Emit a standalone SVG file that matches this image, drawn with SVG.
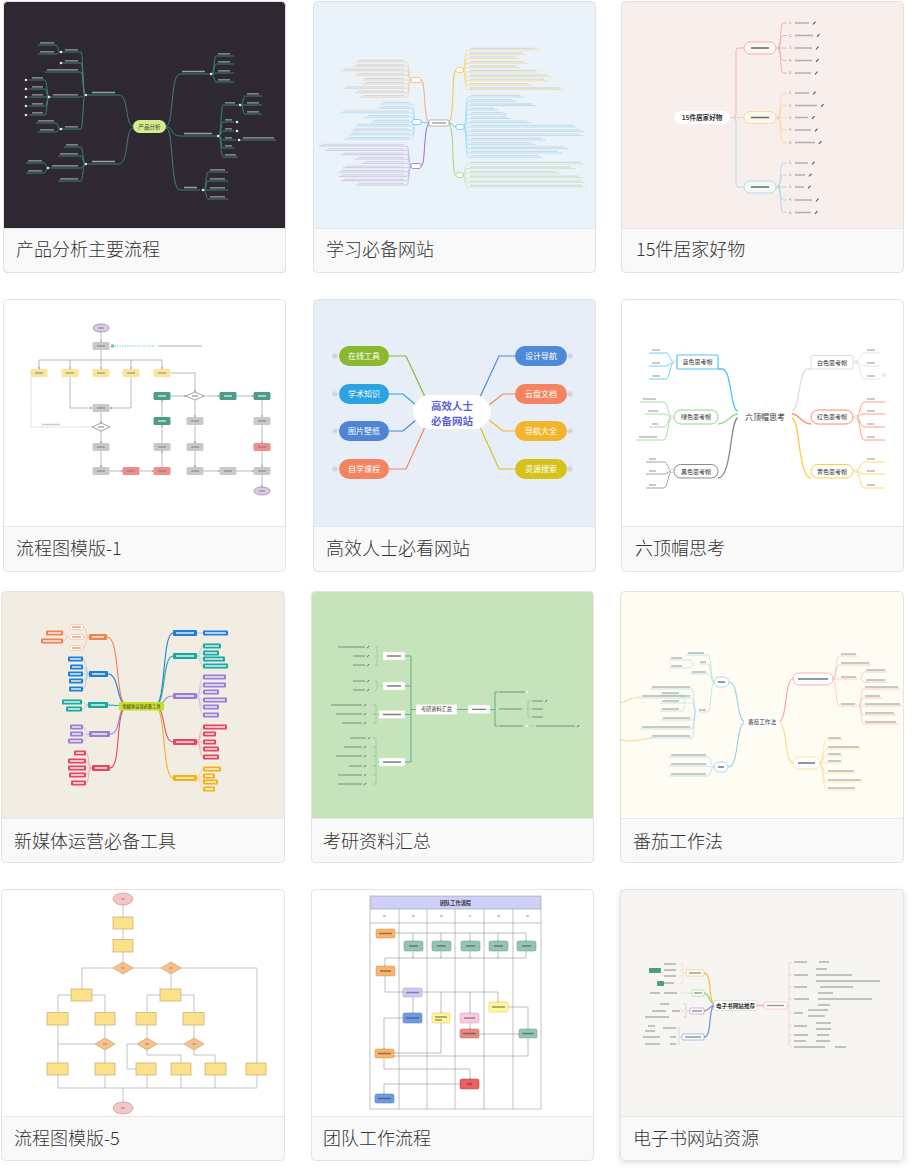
<svg xmlns="http://www.w3.org/2000/svg" width="912" height="1172" viewBox="0 0 912 1172">
<defs>
<style>
.frame{fill:none;stroke:#e3e3e3;stroke-width:1}
.foot{fill:#f9f9f9}
.sep{stroke:#e8e8e8;stroke-width:1}
.lbl{font-family:"Noto Sans CJK SC","Noto Sans",sans-serif;font-size:18px;font-weight:300;fill:#333}
.cj{font-family:"Noto Sans CJK SC","Noto Sans",sans-serif}
.ln{fill:none;stroke-width:.9}
.tb{fill:none;stroke-width:1.3}
.fl{fill:none;stroke:#8e8e8e;stroke-width:.6}
.bx{stroke:none}
</style>
<marker id="ah" viewBox="0 0 4 4" refX="3.5" refY="2" markerWidth="3" markerHeight="3" orient="auto"><path d="M0,0 L4,2 L0,4 Z" fill="#777"/></marker>
<filter id="sh" x="-10%" y="-10%" width="120%" height="120%"><feDropShadow dx="0" dy="2" stdDeviation="3" flood-color="#000" flood-opacity="0.15"/></filter>
</defs>
<rect width="912" height="1172" fill="#ffffff"/>

<!-- ============ CARD 1 ============ -->
<g id="card1">
<rect x="3.5" y="1.5" width="282" height="271" rx="4" fill="#2d2831"/>
<path class="foot" d="M3.5,228.5 H285.5 V268.5 A4,4 0 0 1 281.5,272.5 H7.5 A4,4 0 0 1 3.5,268.5 Z"/>
<line class="sep" x1="3.5" y1="228.5" x2="285.5" y2="228.5"/>
<g class="ln" stroke="#3b8a80">
<path d="M166,126 C174,126 170,74 180,74 H209"/>
<path d="M166,127 C174,127 170,136 180,136 H216"/>
<path d="M166,128 C174,128 170,190 180,190 H200"/>
<path d="M212,74 C214,74 214,56 216,56 H234"/>
<path d="M212,74 C214,74 214,64 216,64 H234"/>
<path d="M212,74 C214,74 214,73 216,73 H234"/>
<path d="M212,74 C214,74 214,82 216,82 H234"/>
<path d="M219,136 C221,136 221,105 223,105 H238"/>
<path d="M219,136 C221,136 221,122 223,122 H234"/>
<path d="M219,136 C221,136 221,131 223,131 H234"/>
<path d="M219,136 C221,136 221,140 223,140 H236"/>
<path d="M219,136 C221,136 221,148 223,148 H234"/>
<path d="M219,136 C221,136 221,157 223,157 H238"/>
<path d="M241,105 C243,105 243,96 245,96 H262"/>
<path d="M241,105 H262"/>
<path d="M241,105 C243,105 243,114 245,114 H262"/>
<path d="M239,140 H276"/>
<path d="M204,190 C206,190 206,172 208,172 H228"/>
<path d="M204,190 C206,190 206,181 208,181 H228"/>
<path d="M204,190 H228"/>
<path d="M204,190 C206,190 206,199 208,199 H228"/>
<path d="M133,126 C125,126 129,95 119,95 H88"/>
<path d="M133,128 C125,128 129,164 119,164 H88"/>
<path d="M85,95 C83,95 83,52 81,52 H62"/>
<path d="M85,95 C83,95 83,63 81,63 H62"/>
<path d="M85,95 C83,95 83,72 81,72 H45"/>
<path d="M85,95 C83,95 83,97 81,97 H50"/>
<path d="M85,95 C83,95 83,129 81,129 H62"/>
<path d="M60,52 C58,52 58,45 56,45 H38"/>
<path d="M60,52 C58,52 58,54 56,54 H38"/>
<path d="M49,97 C47,97 47,80 45,80 H29"/>
<path d="M49,97 C47,97 47,89 45,89 H29"/>
<path d="M49,97 H29"/>
<path d="M49,97 C47,97 47,106 45,106 H29"/>
<path d="M49,97 C47,97 47,115 45,115 H29"/>
<path d="M60,129 C58,129 58,123 56,123 H36"/>
<path d="M60,129 C58,129 58,132 56,132 H38"/>
<path d="M85,164 C83,164 83,147 81,147 H64"/>
<path d="M85,164 C83,164 83,156 81,156 H58"/>
<path d="M85,164 C83,164 83,168 81,168 H50"/>
<path d="M85,164 C83,164 83,181 81,181 H58"/>
<path d="M48,168 C46,168 46,163 44,163 H26"/>
<path d="M48,168 C46,168 46,173 44,173 H26"/>
</g>
<g class="tb" stroke="#cfd2d0" opacity=".7">
<path d="M182,71.5 H205 M184,133.5 H212 M184,187.5 H197"/>
<path d="M218,53.8 H230 M218,61.8 H230 M218,70.8 H230 M218,79.8 H230"/>
<path d="M225,102.8 H235 M225,119.8 H232 M225,128.8 H232 M225,137.8 H232 M225,145.8 H232 M225,154.8 H236"/>
<path d="M247,93.8 H259 M247,102.8 H259 M247,111.8 H259 M243,137.8 H274"/>
<path d="M210,169.8 H225 M210,178.8 H225 M210,187.8 H225 M210,196.8 H225"/>
<path d="M92,92.5 H115 M92,161.5 H115"/>
<path d="M65,49.8 H78 M65,60.8 H78 M47,69.8 H78 M53,94.8 H78 M65,126.8 H78"/>
<path d="M40,42.8 H54 M40,51.8 H54 M32,77.8 H43 M32,86.8 H43 M32,94.8 H43 M32,103.8 H43 M32,112.8 H43 M38,120.8 H54 M40,129.8 H54"/>
<path d="M66,144.8 H78 M60,153.8 H78 M52,165.8 H78 M60,178.8 H78 M28,160.8 H42 M28,170.8 H42"/>
</g>
<g fill="#e6e6e6">
<circle cx="211" cy="74" r="1.3"/><circle cx="218" cy="136" r="1.3"/><circle cx="240" cy="105" r="1.3"/><circle cx="237" cy="122" r="1.3"/><circle cx="237" cy="131" r="1.3"/><circle cx="239" cy="140" r="1.3"/><circle cx="203" cy="190" r="1.3"/>
<circle cx="86" cy="95" r="1.3"/><circle cx="61" cy="52" r="1.3"/><circle cx="61" cy="63" r="1.3"/><circle cx="49" cy="97" r="1.3"/><circle cx="61" cy="129" r="1.3"/><circle cx="86" cy="164" r="1.3"/><circle cx="48" cy="168" r="1.3"/>
<circle cx="26" cy="80" r="1.3"/><circle cx="26" cy="89" r="1.3"/><circle cx="26" cy="97" r="1.3"/><circle cx="26" cy="106" r="1.3"/><circle cx="26" cy="115" r="1.3"/>
</g>
<rect x="133" y="120" width="33" height="13" rx="6.5" fill="#d4ec8a"/>
<text class="cj" x="149.5" y="128.5" font-size="5.6" fill="#444" text-anchor="middle">产品分析</text>
<rect class="frame" x="3.5" y="1.5" width="282" height="271" rx="4"/>
<text class="lbl" x="16" y="256">产品分析主要流程</text>
</g>

<!-- ============ CARD 2 ============ -->
<g id="card2">
<rect x="313.5" y="1.5" width="282" height="271" rx="4" fill="#ebf3fa"/>
<path class="foot" d="M313.5,228.5 H595.5 V268.5 A4,4 0 0 1 591.5,272.5 H317.5 A4,4 0 0 1 313.5,268.5 Z"/>
<line class="sep" x1="313.5" y1="228.5" x2="595.5" y2="228.5"/>
<g class="ln" stroke-width="1">
<path d="M430,123 C423,123 426,80 421,80" stroke="#f3a55e"/>
<path d="M430,123 C425,123 424,122 421,122" stroke="#4fc3f7"/>
<path d="M430,123 C423,123 426,166 421,166" stroke="#8e5cc2"/>
<path d="M448,123 C455,123 451,70 456,70" stroke="#f2c12e"/>
<path d="M448,123 C453,123 453,127 456,127" stroke="#4fc3f7"/>
<path d="M448,123 C455,123 451,175 456,175" stroke="#9ccc65"/>
</g>
<g opacity=".8">
<g class="ln" stroke="#f6d67a" stroke-width=".7">
<path d="M463,70 C465,70 465,50 467,50 H539"/><path d="M463,70 C465,70 465,54.4 467,54.4 H526"/><path d="M463,70 C465,70 465,58.8 467,58.8 H520"/><path d="M463,70 C465,70 465,63.2 467,63.2 H527"/><path d="M463,70 C465,70 465,67.6 467,67.6 H520"/><path d="M463,70 C465,70 465,72 467,72 H540"/><path d="M463,70 C465,70 465,76.4 467,76.4 H551"/><path d="M463,70 C465,70 465,80.8 467,80.8 H548"/><path d="M463,70 C465,70 465,85.2 467,85.2 H532"/><path d="M463,70 C465,70 465,89.6 467,89.6 H563"/>
</g>
<g class="ln" stroke="#9edcf6" stroke-width=".7">
<path d="M464,127 C466,127 466,97 468,97 H524"/><path d="M464,127 C466,127 466,101.3 468,101.3 H516"/><path d="M464,127 C466,127 466,105.6 468,105.6 H536"/><path d="M464,127 C466,127 466,109.9 468,109.9 H498"/><path d="M464,127 C466,127 466,114.2 468,114.2 H507"/><path d="M464,127 C466,127 466,118.5 468,118.5 H511"/><path d="M464,127 C466,127 466,122.8 468,122.8 H531"/><path d="M464,127 H577"/><path d="M464,127 C466,127 466,131.4 468,131.4 H584"/><path d="M464,127 C466,127 466,135.7 468,135.7 H583"/><path d="M464,127 C466,127 466,140 468,140 H546"/><path d="M464,127 C466,127 466,144.3 468,144.3 H535"/><path d="M464,127 C466,127 466,148.6 468,148.6 H568"/><path d="M464,127 C466,127 466,152.9 468,152.9 H562"/><path d="M464,127 C466,127 466,157.2 468,157.2 H542"/>
</g>
<g class="ln" stroke="#c8e3a8" stroke-width=".7">
<path d="M463,175 C465,175 465,164 467,164 H585"/><path d="M463,175 C465,175 465,168.6 467,168.6 H575"/><path d="M463,175 C465,175 465,173.2 467,173.2 H560"/><path d="M463,175 C465,175 465,177.8 467,177.8 H583"/><path d="M463,175 C465,175 465,182.4 467,182.4 H585"/><path d="M463,175 C465,175 465,187 467,187 H586"/>
</g>
<g class="ln" stroke="#f6c9a0" stroke-width=".7">
<path d="M411,80 C409,80 409,62 407,62 H356"/><path d="M411,80 C409,80 409,66.4 407,66.4 H353"/><path d="M411,80 C409,80 409,70.8 407,70.8 H341"/><path d="M411,80 C409,80 409,75.2 407,75.2 H355"/><path d="M411,80 H362"/><path d="M411,80 C409,80 409,84 407,84 H363"/><path d="M411,80 C409,80 409,88.4 407,88.4 H343"/><path d="M411,80 C409,80 409,92.8 407,92.8 H355"/><path d="M411,80 C409,80 409,97.2 407,97.2 H360"/>
</g>
<g class="ln" stroke="#9edcf6" stroke-width=".7">
<path d="M416,122 C414,122 414,104 412,104 H380"/><path d="M416,122 C414,122 414,108.4 412,108.4 H378"/><path d="M416,122 C414,122 414,112.8 412,112.8 H340"/><path d="M416,122 C414,122 414,117.2 412,117.2 H365"/><path d="M416,122 H371"/><path d="M416,122 C414,122 414,126 412,126 H355"/><path d="M416,122 C414,122 414,130.4 412,130.4 H351"/><path d="M416,122 C414,122 414,134.8 412,134.8 H349"/><path d="M416,122 C414,122 414,139.2 412,139.2 H344"/>
</g>
<g class="ln" stroke="#c9aee0" stroke-width=".7">
<path d="M411,166 C409,166 409,146 407,146 H319"/><path d="M411,166 C409,166 409,150.3 407,150.3 H325"/><path d="M411,166 C409,166 409,154.7 407,154.7 H341"/><path d="M411,166 C409,166 409,159 407,159 H355"/><path d="M411,166 C409,166 409,163.3 407,163.3 H362"/><path d="M411,166 C409,166 409,167.7 407,167.7 H343"/><path d="M411,166 C409,166 409,172 407,172 H339"/><path d="M411,166 C409,166 409,176.3 407,176.3 H339"/><path d="M411,166 C409,166 409,180.7 407,180.7 H341"/><path d="M411,166 C409,166 409,185 407,185 H356"/>
</g>
<g class="tb" stroke="#b9c0c8" stroke-width="1.1" opacity=".6">
<path d="M470,48.4 H535 M470,52.8 H522 M470,57.2 H516 M470,61.6 H523 M470,66 H516 M470,70.4 H536 M470,74.8 H547 M470,79.2 H544 M470,83.6 H528 M470,88 H559"/>
<path d="M471,95.4 H520 M471,99.7 H512 M471,104 H532 M471,108.3 H494 M471,112.6 H503 M471,116.9 H507 M471,121.2 H527 M471,125.4 H573 M471,129.8 H580 M471,134.1 H579 M471,138.4 H542 M471,142.7 H531 M471,147 H564 M471,151.3 H558 M471,155.6 H538"/>
<path d="M470,162.4 H581 M470,167 H571 M470,171.6 H556 M470,176.2 H579 M470,180.8 H581 M470,185.4 H582"/>
<path d="M359,60.4 H404 M356,64.8 H404 M344,69.2 H404 M358,73.6 H404 M365,78.4 H404 M366,82.4 H404 M346,86.8 H404 M358,91.2 H404 M363,95.6 H404"/>
<path d="M383,102.4 H409 M381,106.8 H409 M343,111.2 H409 M368,115.6 H409 M374,120.4 H409 M358,124.4 H409 M354,128.8 H409 M352,133.2 H409 M347,137.6 H409"/>
<path d="M322,144.4 H404 M328,148.7 H404 M344,153.1 H404 M358,157.4 H404 M365,161.7 H404 M346,166.1 H404 M342,170.4 H404 M342,174.7 H404 M344,179.1 H404 M359,183.4 H404"/>
</g>
</g>
<g fill="#fff" stroke-width=".7">
<rect x="411" y="77.5" width="10" height="5" rx="2" stroke="#f3a55e"/>
<rect x="412" y="119.5" width="9" height="5" rx="2" stroke="#4fc3f7"/>
<rect x="411" y="163.5" width="10" height="5" rx="2" stroke="#8e5cc2"/>
<rect x="456" y="67.5" width="7" height="5" rx="2" stroke="#f2c12e"/>
<rect x="456" y="124.5" width="8" height="5" rx="2" stroke="#4fc3f7"/>
<rect x="456" y="172.5" width="7" height="5" rx="2" stroke="#9ccc65"/>
<rect x="429" y="120" width="20" height="6" rx="1" stroke="#999"/>
</g>
<line x1="432" y1="123" x2="446" y2="123" stroke="#777" stroke-width="1"/>
<rect class="frame" x="313.5" y="1.5" width="282" height="271" rx="4"/>
<text class="lbl" x="326" y="256">学习必备网站</text>
</g>

<!-- ============ CARD 3 ============ -->
<g id="card3">
<rect x="621.5" y="1.5" width="282" height="271" rx="4" fill="#f8eeec"/>
<path class="foot" d="M621.5,228.5 H903.5 V268.5 A4,4 0 0 1 899.5,272.5 H625.5 A4,4 0 0 1 621.5,268.5 Z"/>
<line class="sep" x1="621.5" y1="228.5" x2="903.5" y2="228.5"/>
<g class="ln" stroke-width="1.3">
<path d="M729,117.5 H733 Q736,117.5 736,114 V51 Q736,48 739,48 H744" stroke="#f4a9a9"/>
<path d="M729,117.5 H744" stroke="#f8d99a"/>
<path d="M729,117.5 H733 Q736,117.5 736,121 V184 Q736,187 739,187 H744" stroke="#a6dbe6"/>
</g>
<g class="ln" stroke-width=".8">
<g stroke="#f4a9a9">
<path d="M778,48 C781,48 780,23 783,23 H787"/><path d="M778,48 C781,48 780,35.5 783,35.5 H787"/><path d="M778,48 H787"/><path d="M778,48 C781,48 780,60.5 783,60.5 H787"/><path d="M778,48 C781,48 780,73 783,73 H787"/>
</g>
<g stroke="#f8d99a">
<path d="M778,117.5 C781,117.5 780,93 783,93 H787"/><path d="M778,117.5 C781,117.5 780,105.5 783,105.5 H787"/><path d="M778,117.5 H787"/><path d="M778,117.5 C781,117.5 780,130 783,130 H787"/><path d="M778,117.5 C781,117.5 780,142.5 783,142.5 H787"/>
</g>
<g stroke="#a6dbe6">
<path d="M778,187 C781,187 780,163 783,163 H787"/><path d="M778,187 C781,187 780,175 783,175 H787"/><path d="M778,187 H787"/><path d="M778,187 C781,187 780,200 783,200 H787"/><path d="M778,187 C781,187 780,212.5 783,212.5 H787"/>
</g>
</g>
<g class="cj" font-size="3.6" fill="#888">
<text x="789" y="24.3">1.</text><text x="789" y="36.8">2.</text><text x="789" y="49.3">3.</text><text x="789" y="61.8">4.</text><text x="789" y="74.3">5.</text>
<text x="789" y="94.3">1.</text><text x="789" y="106.8">2.</text><text x="789" y="119.3">3.</text><text x="789" y="131.3">4.</text><text x="789" y="143.8">5.</text>
<text x="789" y="164.3">1.</text><text x="789" y="176.3">2.</text><text x="789" y="188.3">3.</text><text x="789" y="201.3">4.</text><text x="789" y="213.8">5.</text>
</g>
<g class="tb" stroke="#9a9a9a" stroke-width="1.6" opacity=".75">
<path d="M795,23 H809 M795,35.5 H813 M795,48 H812 M795,60.5 H812 M795,73 H811"/>
<path d="M795,93 H809 M795,105.5 H817 M795,117.5 H808 M795,130 H811 M795,142.5 H815"/>
<path d="M795,163 H808 M795,175 H805 M795,187 H804 M795,200 H812 M795,212.5 H811"/>
</g>
<g stroke="#555" stroke-width="1.1">
<path d="M813,24.3 L815.5,21.7 M817,36.8 L819.5,34.2 M816,49.3 L818.5,46.7 M816,61.8 L818.5,59.2 M815,74.3 L817.5,71.7"/>
<path d="M813,94.3 L815.5,91.7 M821,106.8 L823.5,104.2 M812,118.8 L814.5,116.2 M815,131.3 L817.5,128.7 M819,143.8 L821.5,141.2"/>
<path d="M812,164.3 L814.5,161.7 M809,176.3 L811.5,173.7 M808,188.3 L810.5,185.7 M816,201.3 L818.5,198.7 M815,213.8 L817.5,211.2"/>
</g>
<rect x="674" y="111" width="56" height="13" rx="6.5" fill="#fff"/>
<text class="cj" x="702" y="120" font-size="6.6" font-weight="bold" fill="#333" text-anchor="middle">15件居家好物</text>
<rect x="744" y="42" width="32" height="12" rx="6" fill="#fdf5f4" stroke="#f4a9a9" stroke-width=".9"/>
<rect x="744" y="111.5" width="32" height="12" rx="6" fill="#fdf7ee" stroke="#f8d99a" stroke-width=".9"/>
<rect x="744" y="181" width="32" height="12" rx="6" fill="#f3f7f7" stroke="#a6dbe6" stroke-width=".9"/>
<g class="tb" stroke="#444" stroke-width="2.2" opacity=".8">
<path d="M751,48 H769 M751,117.5 H769 M751,187 H769"/>
</g>
<g fill="none" stroke="#bbb" stroke-width=".5"><circle cx="778" cy="48" r="1.4"/><circle cx="778" cy="117.5" r="1.4"/><circle cx="778" cy="187" r="1.4"/></g>
<rect class="frame" x="621.5" y="1.5" width="282" height="271" rx="4"/>
<text class="lbl" x="636" y="256">15件居家好物</text>
</g>

<!-- ============ CARD 4 ============ -->
<g id="card4">
<rect x="3.5" y="299.5" width="282" height="272" rx="4" fill="#ffffff"/>
<path class="foot" d="M3.5,526.5 H285.5 V567.5 A4,4 0 0 1 281.5,571.5 H7.5 A4,4 0 0 1 3.5,567.5 Z"/>
<line class="sep" x1="3.5" y1="526.5" x2="285.5" y2="526.5"/>
<g class="fl" marker-end="url(#ah)">
<path d="M101,332 V342"/>
<path d="M101,350 V360 H39 V369"/><path d="M70,360 V369"/><path d="M101,360 V369"/><path d="M131,360 V369"/><path d="M101,360 H162 V369"/>
<path d="M70,377 V408 H92"/><path d="M131,377 V408 H110"/>
<path d="M101,412 V423"/>
<path d="M101,431 V443"/><path d="M101,451 V467"/><path d="M109.5,471 H122.5"/><path d="M139.5,471 H153.5"/>
<path d="M162,467 V451"/><path d="M162,443 V425"/><path d="M162,417 V400"/><path d="M170.5,396 H186"/>
<path d="M170.5,373 H195 V392"/>
<path d="M204,396 H219.5"/><path d="M236.5,396 H253.5"/>
<path d="M262,400 V417"/><path d="M262,425 V443"/><path d="M262,451 V467"/><path d="M262,475 V487"/>
<path d="M195,400 V417"/><path d="M195,425 V443"/><path d="M195,451 V467"/><path d="M203.5,471 H219.5"/><path d="M236.5,471 H253.5"/>
</g>
<path d="M30.5,373 H31 V427 H92" fill="none" stroke="#aaa" stroke-width=".6" stroke-dasharray="1.2 1"/>
<path d="M112,346 H155" fill="none" stroke="#5fd38b" stroke-width=".8" stroke-dasharray="1.5 1"/>
<rect x="111" y="344.5" width="3" height="3" fill="#5fd38b"/>
<g class="tb" stroke="#bbb" stroke-width="1" opacity=".8"><path d="M158,346 H202 M42,424.5 H60"/></g>
<ellipse cx="101" cy="328" rx="8" ry="4" fill="#dccbe6" stroke="#7a6a8c" stroke-width=".6"/>
<ellipse cx="262" cy="491" rx="8" ry="4" fill="#dccbe6" stroke="#7a6a8c" stroke-width=".6"/>
<g class="bx" fill="#c9c9c9">
<rect x="92.5" y="342" width="17" height="8" rx="1.5"/>
<rect x="92.5" y="404" width="17" height="8" rx="1.5"/>
<rect x="92.5" y="443" width="17" height="8" rx="1.5"/>
<rect x="92.5" y="467" width="17" height="8" rx="1.5"/>
<rect x="153.5" y="443" width="17" height="8" rx="1.5"/>
<rect x="253.5" y="417" width="17" height="8" rx="1.5"/>
<rect x="253.5" y="467" width="17" height="8" rx="1.5"/>
<rect x="186.5" y="417" width="17" height="8" rx="1.5"/>
<rect x="186.5" y="443" width="17" height="8" rx="1.5"/>
<rect x="186.5" y="467" width="17" height="8" rx="1.5"/>
<rect x="219.5" y="467" width="17" height="8" rx="1.5"/>
</g>
<g class="bx" fill="#fde49a">
<rect x="30.5" y="369" width="17" height="8" rx="1.5"/><rect x="61.5" y="369" width="17" height="8" rx="1.5"/><rect x="92.5" y="369" width="17" height="8" rx="1.5"/><rect x="122.5" y="369" width="17" height="8" rx="1.5"/><rect x="153.5" y="369" width="17" height="8" rx="1.5"/>
</g>
<g class="bx" fill="#4e9c88">
<rect x="153.5" y="417" width="17" height="8" rx="1.5"/><rect x="153.5" y="392" width="17" height="8" rx="1.5"/><rect x="219.5" y="392" width="17" height="8" rx="1.5"/><rect x="253.5" y="392" width="17" height="8" rx="1.5"/>
</g>
<g class="bx" fill="#ef8d8d">
<rect x="122.5" y="467" width="17" height="8" rx="1.5"/><rect x="153.5" y="467" width="17" height="8" rx="1.5"/><rect x="253.5" y="443" width="17" height="8" rx="1.5"/>
</g>
<g fill="#fff" stroke="#666" stroke-width=".6">
<path d="M92,427 L101,423 L110,427 L101,431 Z"/>
<path d="M186,396 L195,392 L204,396 L195,400 Z"/>
</g>
<g class="tb" stroke="#777" stroke-width=".8" opacity=".6">
<path d="M97,346 H105 M97,408 H105 M97,447 H105 M97,471 H105 M158,447 H166 M258,421 H266 M258,471 H266 M191,421 H199 M191,447 H199 M191,471 H199 M224,471 H232"/>
<path d="M35,373 H43 M66,373 H74 M97,373 H105 M127,373 H135 M158,373 H166 M127,471 H135 M158,471 H166 M258,447 H266"/>
<path d="M98,427 H104 M192,396 H198 M98,328 H104 M259,491 H265"/>
</g>
<g class="tb" stroke="#eef" stroke-width=".8" opacity=".8"><path d="M158,421 H166 M158,396 H166 M224,396 H232 M258,396 H266"/></g>
<rect class="frame" x="3.5" y="299.5" width="282" height="272" rx="4"/>
<text class="lbl" x="16" y="555">流程图模版-1</text>
</g>

<!-- ============ CARD 5 ============ -->
<g id="card5">
<rect x="313.5" y="299.5" width="282" height="272" rx="4" fill="#e8eef8"/>
<path class="foot" d="M313.5,526.5 H595.5 V567.5 A4,4 0 0 1 591.5,571.5 H317.5 A4,4 0 0 1 313.5,567.5 Z"/>
<line class="sep" x1="313.5" y1="526.5" x2="595.5" y2="526.5"/>
<g fill="none" stroke-width="1.2">
<path d="M389,356 H406 L425,397" stroke="#8ab92d"/>
<path d="M389,394 H403 L416,405" stroke="#2aa3e0"/>
<path d="M389,431 H403 L416,420" stroke="#4f85d4"/>
<path d="M389,469 H406 L425,427" stroke="#f3845f"/>
<path d="M515,356 H499 L480,397" stroke="#4e8ad8"/>
<path d="M515,394 H503 L489,405" stroke="#f3845f"/>
<path d="M515,431 H503 L489,420" stroke="#f2b52e"/>
<path d="M515,469 H499 L480,427" stroke="#d5c21b"/>
</g>
<rect x="413" y="395" width="78" height="34" rx="17" fill="#fff"/>
<text class="cj" x="452" y="410" font-size="10.5" font-weight="bold" fill="#5b63d3" text-anchor="middle">高效人士</text>
<text class="cj" x="452" y="424.5" font-size="10.5" font-weight="bold" fill="#5b63d3" text-anchor="middle">必备网站</text>
<rect x="339" y="346" width="50" height="20" rx="10" fill="#8ab92d"/>
<rect x="339" y="384" width="50" height="20" rx="10" fill="#2aa3e0"/>
<rect x="339" y="421" width="50" height="20" rx="10" fill="#4f85d4"/>
<rect x="339" y="459" width="50" height="20" rx="10" fill="#f3845f"/>
<rect x="515" y="346" width="52" height="20" rx="10" fill="#4e8ad8"/>
<rect x="515" y="384" width="52" height="20" rx="10" fill="#f3845f"/>
<rect x="515" y="421" width="52" height="20" rx="10" fill="#f2b52e"/>
<rect x="515" y="459" width="52" height="20" rx="10" fill="#d5c21b"/>
<g class="cj" font-size="8" fill="#fff" text-anchor="middle">
<text x="364" y="358.8">在线工具</text><text x="364" y="396.8">学术知识</text><text x="364" y="433.8">图片壁纸</text><text x="364" y="471.8">自学课程</text>
<text x="541" y="358.8">设计导航</text><text x="541" y="396.8">云盘文档</text><text x="541" y="433.8">导航大全</text><text x="541" y="471.8">资源搜索</text>
</g>
<g fill="#e4e4e4" stroke="#bdbdbd" stroke-width=".5">
<circle cx="335" cy="356" r="2.3"/><circle cx="335" cy="394" r="2.3"/><circle cx="335" cy="431" r="2.3"/><circle cx="335" cy="469" r="2.3"/>
<circle cx="570" cy="356" r="2.3"/><circle cx="570" cy="394" r="2.3"/><circle cx="570" cy="431" r="2.3"/><circle cx="570" cy="469" r="2.3"/>
</g>
<g stroke="#999" stroke-width=".5"><path d="M333.6,356 H336.4 M333.6,394 H336.4 M333.6,431 H336.4 M333.6,469 H336.4 M568.6,356 H571.4 M568.6,394 H571.4 M568.6,431 H571.4 M568.6,469 H571.4"/></g>
<rect class="frame" x="313.5" y="299.5" width="282" height="272" rx="4"/>
<text class="lbl" x="326" y="555">高效人士必看网站</text>
</g>

<!-- ============ CARD 6 ============ -->
<g id="card6">
<rect x="621.5" y="299.5" width="282" height="272" rx="4" fill="#ffffff"/>
<path class="foot" d="M621.5,526.5 H903.5 V567.5 A4,4 0 0 1 899.5,571.5 H625.5 A4,4 0 0 1 621.5,567.5 Z"/>
<line class="sep" x1="621.5" y1="526.5" x2="903.5" y2="526.5"/>
<g fill="none" stroke-width="1.3">
<path d="M738,411 C730,411 732,369 722,369 H718" stroke="#4fc3f7"/>
<path d="M738,414 C730,414 728,424 718,424" stroke="#90d68c"/>
<path d="M738,418 C730,418 732,478 718,478" stroke="#8a8a8a"/>
<path d="M792,411 C800,411 798,369 808,369 H811" stroke="#dedede"/>
<path d="M792,414 C800,414 801,424 811,424" stroke="#ff8a65"/>
<path d="M792,418 C800,418 798,478 811,478" stroke="#ffcf40"/>
</g>
<g fill="none" stroke-width=".8">
<g stroke="#4fc3f7"><path d="M674,362 C670,362 670,353 666,353 H649"/><path d="M674,362 C670,362 670,366 666,366 H649"/><path d="M674,362 C670,362 670,379 666,379 H649"/></g>
<g stroke="#90d68c"><path d="M672,417 C668,417 668,402 664,402 H640"/><path d="M672,417 C668,417 668,414 664,414 H645"/><path d="M672,417 C668,417 668,427 664,427 H649"/><path d="M672,417 C668,417 668,440 664,440 H636"/></g>
<g stroke="#8a8a8a"><path d="M672,471 C668,471 668,462 664,462 H646"/><path d="M672,471 C668,471 668,474 664,474 H646"/><path d="M672,471 C668,471 668,488 664,488 H646"/></g>
<g stroke="#dedede"><path d="M856,362 C860,362 860,353 864,353 H881"/><path d="M856,362 C860,362 860,366 864,366 H881"/><path d="M856,362 C860,362 860,379 864,379 H881"/></g>
<g stroke="#ff8a65"><path d="M856,417 C860,417 860,402 864,402 H885"/><path d="M856,417 C860,417 860,414 864,414 H885"/><path d="M856,417 C860,417 860,427 864,427 H885"/><path d="M856,417 C860,417 860,440 864,440 H885"/></g>
<g stroke="#ffcf40"><path d="M856,471 C860,471 860,462 864,462 H885"/><path d="M856,471 C860,471 860,474 864,474 H885"/><path d="M856,471 C860,471 860,488 864,488 H885"/></g>
</g>
<g class="tb" stroke="#9a9a9a" stroke-width="1.2" opacity=".7">
<path d="M652,350 H660 M652,363 H660 M652,376 H660"/>
<path d="M643,399 H656 M648,411 H658 M652,424 H658 M639,437 H657"/>
<path d="M649,459 H656 M649,471 H656 M649,485 H656"/>
<path d="M867,350 H875 M867,363 H875 M867,376 H875"/>
<path d="M867,399 H875 M867,411 H875 M867,424 H874 M867,437 H875"/>
<path d="M867,459 H875 M867,471 H875 M867,485 H875"/>
</g>
<rect x="677" y="355" width="41" height="14" rx="1" fill="#fff" stroke="#4fc3f7" stroke-width="1.2"/>
<rect x="674" y="410" width="44" height="14" rx="7" fill="#fff" stroke="#90d68c" stroke-width="1"/>
<rect x="674" y="464.5" width="44" height="13.5" rx="6.7" fill="#fff" stroke="#8a8a8a" stroke-width="1"/>
<rect x="811" y="355.5" width="42" height="13.5" rx="1" fill="#fff" stroke="#dedede" stroke-width="1"/>
<rect x="811" y="410" width="42" height="14" rx="7" fill="#fff" stroke="#ff8a65" stroke-width="1"/>
<rect x="811" y="464.5" width="42" height="13.5" rx="6.7" fill="#fff" stroke="#ffcf40" stroke-width="1"/>
<g class="cj" font-size="6" fill="#333" text-anchor="middle">
<text x="697.5" y="364.2">蓝色思考帽</text><text x="696" y="419.2">绿色思考帽</text><text x="696" y="473.5">黑色思考帽</text>
<text x="832" y="364.5">白色思考帽</text><text x="832" y="419.2">红色思考帽</text><text x="832" y="473.5">黄色思考帽</text>
</g>
<g fill="#fff" stroke="#bbb" stroke-width=".5"><circle cx="674" cy="362" r="1.5"/><circle cx="672" cy="417" r="1.5"/><circle cx="672" cy="471" r="1.5"/><circle cx="856" cy="362" r="1.5"/><circle cx="856" cy="417" r="1.5"/><circle cx="856" cy="471" r="1.5"/><circle cx="884" cy="375" r="1.5"/></g>
<text class="cj" x="765" y="420" font-size="8" fill="#333" text-anchor="middle">六顶帽思考</text>
<rect class="frame" x="621.5" y="299.5" width="282" height="272" rx="4"/>
<text class="lbl" x="635" y="555">六顶帽思考</text>
</g>

<!-- ============ CARD 7 ============ -->
<g id="card7">
<rect x="1.5" y="591.5" width="283" height="271" rx="4" fill="#f2ede3"/>
<path class="foot" d="M1.5,818.5 H284.5 V858.5 A4,4 0 0 1 280.5,862.5 H5.5 A4,4 0 0 1 1.5,858.5 Z"/>
<line class="sep" x1="1.5" y1="818.5" x2="284.5" y2="818.5"/>
<g fill="none" stroke-width="1.1">
<path d="M128,706 C114,706 121,637 107,637" stroke="#f47f4f"/>
<path d="M128,706 C116,706 120,674 108,674" stroke="#1f7fd6"/>
<path d="M128,706 C118,706 118,705 108,705" stroke="#17a8a0"/>
<path d="M128,706 C116,706 122,734 110,734" stroke="#9b7fd4"/>
<path d="M128,706 C114,706 122,768 110,768" stroke="#e2485f"/>
<path d="M155,706 C166,706 162,633 173,633" stroke="#1f7fd6"/>
<path d="M155,706 C166,706 162,656 173,656" stroke="#17a8a0"/>
<path d="M155,706 C166,706 162,696 173,696" stroke="#9b7fd4"/>
<path d="M155,706 C166,706 162,742 173,742" stroke="#e2485f"/>
<path d="M155,706 C166,706 162,778 173,778" stroke="#f1b11a"/>
</g>
<g fill="none" stroke-width=".6">
<g stroke="#f6a585"><path d="M89,637 C86,637 86,627 83,627"/><path d="M89,637 H83"/><path d="M89,637 C86,637 86,648 83,648"/><path d="M68,637 C66,637 66,633 63,633"/><path d="M68,637 C66,637 66,641 63,641"/></g>
<g stroke="#7fb3e6"><path d="M89,674 C86,674 86,659 83,659"/><path d="M89,674 C86,674 86,667 83,667"/><path d="M89,674 H83"/><path d="M89,674 C86,674 86,681 83,681"/><path d="M89,674 C86,674 86,689 83,689"/></g>
<g stroke="#7cc9c4"><path d="M88,705 C85,705 85,702 82,702"/><path d="M88,705 C85,705 85,709 82,709"/></g>
<g stroke="#bfaee6"><path d="M89,734 C86,734 86,727 83,727"/><path d="M89,734 H83"/><path d="M89,734 C86,734 86,741 83,741"/></g>
<g stroke="#ee8c9a"><path d="M92,768 C88,768 89,753 86,753"/><path d="M92,768 C88,768 89,761 86,761"/><path d="M92,768 H86"/><path d="M92,768 C88,768 89,775 86,775"/><path d="M92,768 C88,768 89,783 86,783"/></g>
<g stroke="#7fb3e6"><path d="M197,633 H203"/></g>
<g stroke="#7cc9c4"><path d="M197,656 C200,656 200,646 203,646"/><path d="M197,656 C200,656 200,653 203,653"/><path d="M197,656 C200,656 200,659 203,659"/><path d="M197,656 C200,656 200,666 203,666"/></g>
<g stroke="#bfaee6"><path d="M197,696 C200,696 200,677 203,677"/><path d="M197,696 C200,696 200,685 203,685"/><path d="M197,696 C200,696 200,692 203,692"/><path d="M197,696 C200,696 200,700 203,700"/><path d="M197,696 C200,696 200,707 203,707"/><path d="M197,696 C200,696 200,715 203,715"/></g>
<g stroke="#ee8c9a"><path d="M197,742 C200,742 200,727 203,727"/><path d="M197,742 C200,742 200,734 203,734"/><path d="M197,742 H203"/><path d="M197,742 C200,742 200,749 203,749"/><path d="M197,742 C200,742 200,757 203,757"/></g>
<g stroke="#f5cc70"><path d="M197,778 C200,778 200,769 203,769"/><path d="M197,778 C200,778 200,776 203,776"/><path d="M197,778 C200,778 200,782 203,782"/><path d="M197,778 C200,778 200,789 203,789"/></g>
</g>
<g fill="#fff" stroke="#f6a585" stroke-width=".5"><rect x="70" y="624.5" width="13" height="5" rx="1"/><rect x="70" y="634.5" width="13" height="5" rx="1"/><rect x="70" y="645.5" width="13" height="5" rx="1"/></g>
<g fill="#f47f4f"><rect x="89" y="634" width="18" height="6" rx="1"/><rect x="46" y="630.5" width="17" height="5" rx="1"/><rect x="41" y="638.5" width="22" height="5" rx="1"/></g>
<g fill="#1f7fd6"><rect x="89" y="671" width="19" height="6" rx="1"/><rect x="68" y="656.5" width="15" height="5" rx="1"/><rect x="70" y="664.5" width="13" height="5" rx="1"/><rect x="68" y="671.5" width="15" height="5" rx="1"/><rect x="69" y="678.5" width="14" height="5" rx="1"/><rect x="69" y="686.5" width="14" height="5" rx="1"/><rect x="173" y="630" width="24" height="6" rx="1"/><rect x="203" y="630.5" width="25" height="5" rx="1"/></g>
<g fill="#17a8a0"><rect x="88" y="702" width="20" height="6" rx="1"/><rect x="62" y="699.5" width="20" height="5" rx="1"/><rect x="66" y="706.5" width="16" height="5" rx="1"/><rect x="173" y="653" width="24" height="6" rx="1"/><rect x="203" y="643.5" width="18" height="5" rx="1"/><rect x="203" y="650.5" width="16" height="5" rx="1"/><rect x="203" y="656.5" width="22" height="5" rx="1"/><rect x="203" y="663.5" width="25" height="5" rx="1"/></g>
<g fill="#9b7fd4"><rect x="89" y="731" width="21" height="6" rx="1"/><rect x="70" y="724.5" width="13" height="5" rx="1"/><rect x="70" y="731.5" width="13" height="5" rx="1"/><rect x="68" y="738.5" width="15" height="5" rx="1"/><rect x="173" y="693" width="24" height="6" rx="1"/><rect x="203" y="674.5" width="23" height="5" rx="1"/><rect x="203" y="682.5" width="23" height="5" rx="1"/><rect x="203" y="689.5" width="16" height="5" rx="1"/><rect x="203" y="697.5" width="24" height="5" rx="1"/><rect x="203" y="704.5" width="16" height="5" rx="1"/><rect x="203" y="712.5" width="16" height="5" rx="1"/></g>
<g fill="#e2485f"><rect x="92" y="765" width="18" height="6" rx="1"/><rect x="74" y="750.5" width="12" height="5" rx="1"/><rect x="68" y="758.5" width="18" height="5" rx="1"/><rect x="68" y="765.5" width="18" height="5" rx="1"/><rect x="69" y="772.5" width="17" height="5" rx="1"/><rect x="71" y="780.5" width="15" height="5" rx="1"/><rect x="173" y="739" width="24" height="6" rx="1"/><rect x="203" y="724.5" width="24" height="5" rx="1"/><rect x="203" y="731.5" width="13" height="5" rx="1"/><rect x="203" y="739.5" width="13" height="5" rx="1"/><rect x="203" y="746.5" width="16" height="5" rx="1"/><rect x="203" y="754.5" width="16" height="5" rx="1"/></g>
<g fill="#f1b11a"><rect x="173" y="775" width="24" height="6" rx="1"/><rect x="203" y="766.5" width="18" height="5" rx="1"/><rect x="203" y="773.5" width="12" height="5" rx="1"/><rect x="203" y="779.5" width="15" height="5" rx="1"/><rect x="203" y="786.5" width="12" height="5" rx="1"/></g>
<g class="tb" stroke="#fff" stroke-width=".9" opacity=".85">
<path d="M92,637 H104 M92,674 H105 M91,705 H105 M92,734 H107 M95,768 H107 M176,633 H194 M176,656 H194 M176,696 H194 M176,742 H194 M176,778 H194"/>
<path d="M48,633 H61 M43,641 H61 M70,659 H81 M72,667 H81 M70,674 H81 M71,681 H81 M71,689 H81 M64,702 H80 M68,709 H80 M72,727 H81 M72,734 H81 M70,741 H81 M76,753 H84 M70,761 H84 M70,768 H84 M71,775 H84 M73,783 H84"/>
<path d="M205,633 H226 M205,646 H219 M205,653 H217 M205,659 H223 M205,666 H226 M205,677 H224 M205,685 H224 M205,692 H217 M205,700 H225 M205,707 H217 M205,715 H217 M205,727 H225 M205,734 H214 M205,742 H214 M205,749 H217 M205,757 H217 M205,769 H219 M205,776 H213 M205,782 H216 M205,789 H213"/>
</g>
<g class="tb" stroke="#f47f4f" stroke-width=".9" opacity=".8"><path d="M72,627 H81 M72,637 H81 M72,648 H81"/></g>
<rect x="119" y="702" width="45" height="8.5" rx="1" fill="#c5de2a"/>
<text class="cj" x="141.5" y="708" font-size="4.2" fill="#333" text-anchor="middle">新媒体运营必备工具</text>
<rect class="frame" x="1.5" y="591.5" width="283" height="271" rx="4"/>
<text class="lbl" x="14" y="848">新媒体运营必备工具</text>
</g>

<!-- ============ CARD 8 ============ -->
<g id="card8">
<rect x="311.5" y="591.5" width="282" height="271" rx="4" fill="#c6e4bb"/>
<path class="foot" d="M311.5,818.5 H593.5 V858.5 A4,4 0 0 1 589.5,862.5 H315.5 A4,4 0 0 1 311.5,858.5 Z"/>
<line class="sep" x1="311.5" y1="818.5" x2="593.5" y2="818.5"/>
<g fill="none" stroke="#5ca67c" stroke-width=".9">
<path d="M416,709.5 H411 V656 H405"/><path d="M411,686 H405"/><path d="M411,714.5 H405"/><path d="M411,709.5 V762 H405"/>
<path d="M457,709.5 H468"/><path d="M490,709.5 H495 M495,692 V726 M495,692 H498 M495,726 H498"/>
</g>
<g fill="none" stroke="#7cbf8e" stroke-width=".6">
<path d="M383,656 H380 M377,647 V665 H375 M377,647 H375 M377,656 H375"/>
<path d="M383,686 H380 M377,681 V690 H375 M377,681 H375"/>
<path d="M379,714.5 H377 M376,705 V723 H373 M376,705 H373 M376,714 H373"/>
<path d="M379,762 H377 M376,738 V784 M376,738 H373 M376,747 H373 M376,756 H373 M376,766 H373 M376,775 H373 M376,784 H373"/>
<path d="M526,709 H528 M528,701 V717 H531 M528,701 H531 M528,709 H531"/>
<path d="M529,726 H534"/>
</g>
<g class="tb" stroke="#6f7c6f" stroke-width="1.1" opacity=".55">
<path d="M338,647 H365 M353,656 H365 M353,665 H365 M353,681 H365 M353,690 H365"/>
<path d="M331,705 H362 M336,714 H362 M342,723 H362"/>
<path d="M350,738 H366 M344,747 H362 M336,756 H362 M349,766 H362 M338,775 H362 M338,784 H362"/>
<path d="M499,692 H525 M499,709 H522 M499,726 H523 M532,701 H543 M532,709 H543 M532,717 H543 M536,726 H575"/>
</g>
<g stroke="#555" stroke-width=".9"><path d="M367,648.2 L369.2,646 M367,657.2 L369.2,655 M367,666.2 L369.2,664 M367,682.2 L369.2,680 M367,691.2 L369.2,689 M364,706.2 L366.2,704 M364,715.2 L366.2,713 M364,724.2 L366.2,722 M368,739.2 L370.2,737 M364,748.2 L366.2,746 M364,757.2 L366.2,755 M364,767.2 L366.2,765 M364,776.2 L366.2,774 M364,785.2 L366.2,783 M545,702.2 L547.2,700 M577,727.2 L579.2,725"/></g>
<g fill="#fff" stroke="#ccc" stroke-width=".4"><circle cx="527" cy="692" r="1.3"/><circle cx="527" cy="726" r="1.3"/></g>
<g fill="#fff" stroke="#d8e6d2" stroke-width=".5">
<rect x="383" y="652" width="22" height="8" rx="1"/><rect x="383" y="682" width="22" height="8" rx="1"/><rect x="379" y="710.5" width="26" height="8" rx="1"/><rect x="379" y="758" width="26" height="8" rx="1"/>
<rect x="468" y="705" width="22" height="8.5" rx="1"/>
<rect x="416" y="704.5" width="41" height="10" rx="1"/>
</g>
<g class="tb" stroke="#444" stroke-width="1.4" opacity=".7"><path d="M387,656 H401 M387,686 H401 M383,714.5 H401 M383,762 H401 M472,709.3 H486"/></g>
<text class="cj" x="436.5" y="711.4" font-size="5.2" fill="#333" text-anchor="middle">考研资料汇总</text>
<rect class="frame" x="311.5" y="591.5" width="282" height="271" rx="4"/>
<text class="lbl" x="323" y="848">考研资料汇总</text>
</g>

<!-- ============ CARD 9 ============ -->
<g id="card9">
<rect x="620.5" y="591.5" width="283" height="271" rx="4" fill="#fffdf3"/>
<path class="foot" d="M620.5,818.5 H903.5 V858.5 A4,4 0 0 1 899.5,862.5 H624.5 A4,4 0 0 1 620.5,858.5 Z"/>
<line class="sep" x1="620.5" y1="818.5" x2="903.5" y2="818.5"/>
<g fill="none" stroke-width="1.1">
<path d="M746,722 C735,722 740,682 729,682" stroke="#8fd3e8"/>
<path d="M746,722 C735,722 740,767 728,767" stroke="#8fd3e8"/>
<path d="M778,722 C788,722 784,679 793,679" stroke="#f4a0a0"/>
<path d="M778,722 C788,722 784,763 793,763" stroke="#f8d98a"/>
</g>
<g fill="none" stroke="#a8dcea" stroke-width=".7">
<path d="M714,682 C711,682 711,655 708,655 H686"/>
<path d="M714,682 C711,682 711,664 708,664 H699"/>
<path d="M714,682 C711,682 711,674 708,674 H690"/>
<path d="M694,664 C692,664 692,660 690,660 H669"/>
<path d="M694,664 C692,664 692,668 690,668 H669"/>
<path d="M714,682 C711,682 711,712 708,712 H698"/>
<path d="M696,712 C694,712 694,689 692,689 H650"/>
<path d="M696,712 C694,712 694,698 692,698 H640"/>
<path d="M696,712 C694,712 694,703 692,703 H688"/>
<path d="M696,712 C694,712 694,720 692,720 H661"/>
<path d="M696,712 C694,712 694,729 692,729 H640"/>
<path d="M696,712 C694,712 694,738 692,738 H650"/>
<path d="M686,703 C684,703 684,695 682,695 H660"/>
<path d="M686,703 H660"/>
<path d="M686,703 C684,703 684,711 682,711 H660"/>
<path d="M714,767 C711,767 711,757 708,757 H669"/>
<path d="M714,767 C711,767 711,766 708,766 H669"/>
<path d="M714,767 C711,767 711,776 708,776 H669"/>
</g>
<g fill="none" stroke="#f7b8b8" stroke-width=".7">
<path d="M833,679 C836,679 836,656 839,656 H858"/>
<path d="M833,679 C836,679 836,665 839,665 H871"/>
<path d="M833,679 H858"/>
<path d="M860,679 C862,679 862,672 864,672 H887"/>
<path d="M860,679 C862,679 862,682 864,682 H887"/>
<path d="M833,679 C836,679 836,706 839,706 H857"/>
<path d="M859,706 C861,706 861,689 863,689 H900"/>
<path d="M859,706 C861,706 861,698 863,698 H882"/>
<path d="M859,706 H902"/>
<path d="M859,706 C861,706 861,715 863,715 H896"/>
<path d="M859,706 C861,706 861,724 863,724 H898"/>
</g>
<g fill="none" stroke="#f8dc98" stroke-width=".7">
<path d="M820,763 C823,763 823,740 826,740 H843"/>
<path d="M820,763 C823,763 823,749 826,749 H861"/>
<path d="M820,763 C823,763 823,756 826,756 H843"/>
<path d="M820,763 H843"/>
<path d="M820,763 C823,763 823,773 826,773 H856"/>
<path d="M820,763 C823,763 823,782 826,782 H863"/>
<path d="M820,763 C823,763 823,790 826,790 H857"/>
</g>
<path d="M621,703 C628,700 634,697 641,697 M621,740 C630,742 640,740 651,738" fill="none" stroke="#f5a623" stroke-width=".8" stroke-dasharray="1.6 1"/>
<g class="tb" stroke="#888" stroke-width="1" opacity=".6">
<path d="M688,653 H704 M700,662 H706 M692,672 H706 M671,658 H682 M671,666 H682 M699,710 H706"/>
<path d="M652,687 H690 M642,696 H690 M663,718 H690 M642,727 H690 M652,736 H690 M662,693 H679 M662,701 H679 M662,709 H679"/>
<path d="M671,755 H706 M671,764 H706 M671,774 H706"/>
<path d="M841,654 H856 M841,663 H869 M841,677 H856 M866,670 H885 M866,680 H885 M841,704 H855 M865,687 H898 M865,696 H880 M865,704 H900 M865,713 H894 M865,722 H896"/>
<path d="M828,738 H841 M828,747 H859 M828,754 H841 M828,761 H841 M828,771 H854 M828,780 H861 M828,788 H855"/>
</g>
<g fill="#fff" stroke-width=".8">
<rect x="714" y="677" width="15" height="10" rx="5" stroke="#8fd3e8"/>
<rect x="714" y="762" width="14" height="10" rx="5" stroke="#8fd3e8"/>
<rect x="793" y="673" width="40" height="12" rx="6" stroke="#f4a0a0"/>
<rect x="793" y="757" width="27" height="12" rx="6" stroke="#f8d98a"/>
</g>
<g class="tb" stroke="#444" stroke-width="1.4" opacity=".75"><path d="M718,682 H725 M718,767 H724 M798,679 H828 M798,763 H815"/></g>
<rect x="744" y="716" width="36" height="12" rx="2" fill="#fff"/>
<text class="cj" x="762" y="724" font-size="5.6" fill="#333" text-anchor="middle">番茄工作法</text>
<rect class="frame" x="620.5" y="591.5" width="283" height="271" rx="4"/>
<text class="lbl" x="633" y="848">番茄工作法</text>
</g>

<!-- ============ CARD 10 ============ -->
<g id="card10">
<rect x="1.5" y="889.5" width="283" height="271" rx="4" fill="#ffffff"/>
<path class="foot" d="M1.5,1116.5 H284.5 V1156.5 A4,4 0 0 1 280.5,1160.5 H5.5 A4,4 0 0 1 1.5,1156.5 Z"/>
<line class="sep" x1="1.5" y1="1116.5" x2="284.5" y2="1116.5"/>
<g fill="none" stroke="#aaa" stroke-width=".7">
<path d="M123,905 V917"/><path d="M123,929 V939"/><path d="M123,952 V962"/>
<path d="M113,968 H82 V989"/><path d="M133,968 H161"/><path d="M181,968 H257 V1063"/><path d="M171,974 V989"/>
<path d="M71,995 H58 V1012"/><path d="M92,995 H105 V1012"/>
<path d="M160,995 H147 V1012"/><path d="M181,995 H194 V1012"/>
<path d="M58,1025 V1063"/><path d="M58,1044 H95"/><path d="M105,1025 V1038"/><path d="M105,1050 V1063"/>
<path d="M147,1025 V1038"/><path d="M194,1025 V1038"/>
<path d="M184,1044 H157"/>
<path d="M137,1044 H127 V1069 H136"/>
<path d="M147,1050 V1055 H181 V1063"/>
<path d="M194,1050 V1055 H215 V1063"/>
<path d="M58,1075 V1088 M105,1075 V1088 M147,1075 V1088 M181,1075 V1088 M215,1075 V1088 M257,1075 V1088 M58,1088 H257"/>
<path d="M123,1088 V1102"/>
</g>
<g fill="#f5c4c4" stroke="#b88" stroke-width=".6"><ellipse cx="123" cy="899" rx="10" ry="6"/><ellipse cx="123" cy="1108" rx="10" ry="6"/></g>
<g fill="#fde08a" stroke="#b8a062" stroke-width=".6">
<rect x="113" y="917" width="20" height="12"/><rect x="113" y="939.5" width="20" height="12.5"/>
<rect x="71" y="989" width="21" height="12"/><rect x="160" y="989" width="21" height="12"/>
<rect x="47" y="1012.5" width="21" height="12.5"/><rect x="95" y="1012.5" width="20" height="12.5"/><rect x="136" y="1012.5" width="20" height="12.5"/><rect x="183" y="1012.5" width="21" height="12.5"/>
<rect x="47" y="1063" width="21" height="12"/><rect x="95" y="1063" width="20" height="12"/><rect x="136" y="1063" width="20" height="12"/><rect x="171" y="1063" width="20" height="12"/><rect x="205" y="1063" width="21" height="12"/><rect x="246" y="1063" width="20" height="12"/>
</g>
<g fill="#f8c08a" stroke="#c89060" stroke-width=".6">
<path d="M113,968 L123,962 L133,968 L123,974 Z"/><path d="M161,968 L171,962 L181,968 L171,974 Z"/>
<path d="M95,1044 L105,1038 L115,1044 L105,1050 Z"/><path d="M137,1044 L147,1038 L157,1044 L147,1050 Z"/><path d="M184,1044 L194,1038 L204,1044 L194,1050 Z"/>
</g>
<g class="tb" stroke="#777" stroke-width=".7" opacity=".5"><path d="M121,899 H125 M121,1108 H125 M121,968 H125 M169,968 H173 M103,1044 H107 M145,1044 H149 M192,1044 H196"/></g>
<rect class="frame" x="1.5" y="889.5" width="283" height="271" rx="4"/>
<text class="lbl" x="14" y="1145">流程图模版-5</text>
</g>

<!-- ============ CARD 11 ============ -->
<g id="card11">
<rect x="311.5" y="889.5" width="282" height="271" rx="4" fill="#ffffff"/>
<path class="foot" d="M311.5,1116.5 H593.5 V1156.5 A4,4 0 0 1 589.5,1160.5 H315.5 A4,4 0 0 1 311.5,1156.5 Z"/>
<line class="sep" x1="311.5" y1="1116.5" x2="593.5" y2="1116.5"/>
<rect x="370" y="896" width="171" height="13" fill="#cfd0fa"/>
<g fill="none" stroke="#999" stroke-width=".6">
<rect x="370" y="896" width="171" height="213"/>
<path d="M370,909 H541 M370,923 H541"/>
<path d="M399,909 V1109 M427,909 V1109 M455,909 V1109 M484,909 V1109 M513,909 V1109"/>
</g>
<text class="cj" x="455.5" y="905" font-size="5.2" font-weight="bold" fill="#333" text-anchor="middle">团队工作流程</text>
<g class="tb" stroke="#888" stroke-width=".8" opacity=".6"><path d="M383,916 H386 M412,916 H415 M440,916 H443 M469,916 H471 M497,916 H500 M526,916 H529"/></g>
<g fill="none" stroke="#8a8a8a" stroke-width=".55" marker-end="url(#ah)">
<path d="M395,933 H526 V941"/><path d="M413,933 V941"/><path d="M441,933 V941"/><path d="M470,933 V941"/><path d="M498,933 V941"/>
<path d="M526,951 V958 H385 V966"/><path d="M413,951 V958"/><path d="M441,951 V958"/><path d="M470,951 V958"/><path d="M498,951 V958"/>
<path d="M385,976 V992 H403"/>
<path d="M422,992 H498 V1002"/><path d="M441,992 V1013"/><path d="M470,992 V1013"/><path d="M413,997 V1013"/>
<path d="M508,1007 H528 V1029"/>
<path d="M470,1023 V1029"/><path d="M479,1034 H519"/>
<path d="M403,1018 H384 V1049"/>
<path d="M441,1023 V1053 H394"/>
<path d="M528,1038 V1056 H394"/>
<path d="M384,1058 V1069 H470 V1079"/>
<path d="M460,1084 H384 V1094"/>
</g>
<g stroke-width=".5">
<rect x="376" y="929" width="19" height="9" rx="1.5" fill="#f9b36b" stroke="#d89050"/>
<rect x="404" y="941" width="19" height="10" rx="1.5" fill="#93c4b4" stroke="#6a9a8a"/>
<rect x="432" y="941" width="19" height="10" rx="1.5" fill="#93c4b4" stroke="#6a9a8a"/>
<rect x="461" y="941" width="19" height="10" rx="1.5" fill="#93c4b4" stroke="#6a9a8a"/>
<rect x="489" y="941" width="19" height="10" rx="1.5" fill="#93c4b4" stroke="#6a9a8a"/>
<rect x="517" y="941" width="19" height="10" rx="1.5" fill="#93c4b4" stroke="#6a9a8a"/>
<rect x="376" y="966" width="19" height="10" rx="1.5" fill="#f9b36b" stroke="#d89050"/>
<rect x="403" y="988" width="19" height="9" rx="1.5" fill="#cdcdfa" stroke="#9a9ad0"/>
<rect x="489" y="1002" width="19" height="10" rx="1.5" fill="#fff79a" stroke="#cfc060"/>
<rect x="403" y="1013" width="19" height="10" rx="1.5" fill="#6f9be0" stroke="#4a78c0"/>
<rect x="432" y="1013" width="18" height="10" rx="1.5" fill="#fff79a" stroke="#cfc060"/>
<rect x="460" y="1013" width="19" height="10" rx="1.5" fill="#fac8e0" stroke="#d098b0"/>
<rect x="460" y="1029" width="19" height="9" rx="1.5" fill="#e98a82" stroke="#c06860"/>
<rect x="519" y="1029" width="18" height="9" rx="1.5" fill="#93c4b4" stroke="#6a9a8a"/>
<rect x="375" y="1049" width="19" height="9" rx="1.5" fill="#f9b36b" stroke="#d89050"/>
<rect x="460" y="1079" width="19" height="10" rx="1.5" fill="#e86060" stroke="#c04040"/>
<rect x="375" y="1094" width="19" height="9" rx="1.5" fill="#6f9be0" stroke="#4a78c0"/>
</g>
<g class="tb" stroke="#333" stroke-width=".7" opacity=".5"><path d="M379,933.5 H392 M409,946 H418 M437,946 H446 M466,946 H475 M494,946 H503 M522,946 H531 M380,971 H391 M406,992.5 H419 M492,1007 H505 M406,1018 H419 M435,1017 H447 M435,1020 H442 M464,1018 H475 M463,1033.5 H476 M522,1033.5 H534 M378,1053.5 H391 M467,1084 H472 M378,1098.5 H391"/></g>
<rect class="frame" x="311.5" y="889.5" width="282" height="271" rx="4"/>
<text class="lbl" x="323" y="1145">团队工作流程</text>
</g>

<!-- ============ CARD 12 ============ -->
<g id="card12">
<rect x="620.5" y="889.5" width="283" height="271" rx="4" fill="#f6f5f2" filter="url(#sh)"/>
<path class="foot" d="M620.5,1116.5 H903.5 V1156.5 A4,4 0 0 1 899.5,1160.5 H624.5 A4,4 0 0 1 620.5,1156.5 Z"/>
<line class="sep" x1="620.5" y1="1116.5" x2="903.5" y2="1116.5"/>
<g fill="none" stroke-width="1.3">
<path d="M716,1005 C707,1005 713,973 704,973" stroke="#f5be4f"/>
<path d="M716,1005 C709,1005 710,993 704,993" stroke="#92d08a"/>
<path d="M716,1005 C709,1005 710,1011 704,1011" stroke="#b77fc0"/>
<path d="M716,1005 C707,1005 713,1037 704,1037" stroke="#6b9be4"/>
<path d="M757,1005.5 H764" stroke="#f4b0b0"/>
</g>
<g fill="none" stroke="#f4c0c0" stroke-width=".6">
<path d="M787,1005.5 H789 M789,965 V1044 Q789,1047 792,1047 M789,965 Q789,962 792,962"/>
<path d="M789,975 H792 M789,987 H792 M789,999 H792 M789,1013 H792 M789,1026 H792 M789,1035 H792 M789,1041 H792"/>
</g>
<g fill="none" stroke="#f8d9a8" stroke-width=".6"><path d="M686,973 H684 M683,964 V983 M683,964 H680 M683,970 H680 M683,976 H680 M683,983 H680"/></g>
<g fill="none" stroke="#bde3b5" stroke-width=".6"><path d="M692,993 H681"/></g>
<g fill="none" stroke="#d6b6da" stroke-width=".6"><path d="M690,1011 H687 M686,1004 V1017 M686,1004 H683 M686,1017 H683 M681,1011 H684"/></g>
<g fill="none" stroke="#b4cdf0" stroke-width=".6"><path d="M682,1037 H680 M679,1028 V1044 M679,1028 H677 M679,1044 H677"/></g>
<g class="tb" stroke="#8a8a8a" stroke-width="1" opacity=".65">
<path d="M794,962 H807 M819,962 H829 M794,975 H808 M816,969 H827 M816,975 H852 M816,981 H880 M794,987 H807 M820,987 H853 M794,999 H809 M818,993 H833 M818,999 H872 M818,1005 H830"/>
<path d="M794,1013 H803 M808,1010 H828 M808,1016 H825 M794,1026 H807 M816,1023 H831 M816,1029 H831 M794,1035 H808 M817,1035 H829 M794,1041 H806 M816,1041 H830 M794,1047 H825 M835,1047 H846"/>
<path d="M664,964 H676 M664,970 H676 M664,976 H676 M663,983 H674 M650,993 H660 M664,993 H677 M660,1004 H669 M652,1011 H666 M645,1017 H669 M672,1011 H680"/>
<path d="M663,1028 H676 M648,1026 H655 M645,1031 H655 M670,1037 H676 M643,1037 H660 M670,1044 H676 M645,1044 H660"/>
</g>
<rect x="649" y="968" width="12" height="5" rx="1" fill="#4e9e7a"/>
<rect x="657" y="981" width="7" height="5" rx="1" fill="#4e9e7a"/>
<g fill="#fff" stroke-width=".6">
<rect x="686" y="970" width="18" height="6" rx="1" stroke="#f5be4f"/>
<rect x="692" y="990" width="12" height="6" rx="1" stroke="#92d08a"/>
<rect x="690" y="1008" width="14" height="6" rx="1" stroke="#b77fc0"/>
<rect x="682" y="1034" width="22" height="6" rx="1" stroke="#6b9be4"/>
<rect x="764" y="1002" width="23" height="7" rx="1" stroke="#f4b0b0"/>
<rect x="714" y="1000.5" width="43" height="10" rx="1.5" stroke="#cfcfcf"/>
</g>
<g class="tb" stroke="#555" stroke-width=".9" opacity=".6"><path d="M689,973 H701 M694,993 H702 M692,1011 H702 M685,1037 H701 M767,1005.5 H784"/></g>
<text class="cj" x="735.5" y="1007.6" font-size="5.6" font-weight="bold" fill="#333" text-anchor="middle">电子书网站推荐</text>
<rect class="frame" x="620.5" y="889.5" width="283" height="271" rx="4"/>
<text class="lbl" x="633" y="1145">电子书网站资源</text>
</g>
</svg>
